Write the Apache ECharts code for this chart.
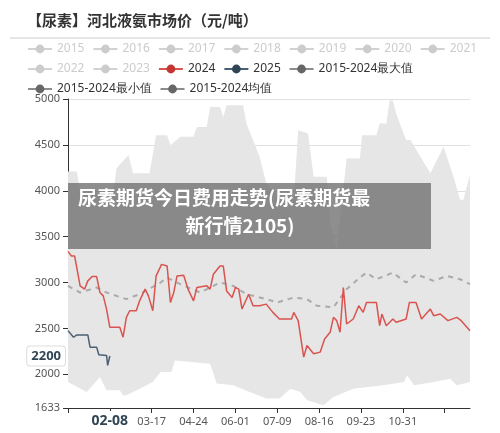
<!DOCTYPE html>
<html><head><meta charset="utf-8">
<script src="https://cdn.jsdelivr.net/npm/echarts@6/dist/echarts.min.js"></script>
<style>html,body{margin:0;padding:0;background:#fff}#c{width:500px;height:433px}</style>
</head><body><div id="c"></div>
<script>
// categories: every day of a leap year, MM-DD
const categories = [];
const monthDays = [31,29,31,30,31,30,31,31,30,31,30,31];
monthDays.forEach((n,m)=>{for(let d=1;d<=n;d++)categories.push(String(m+1).padStart(2,'0')+'-'+String(d).padStart(2,'0'));});

const yTicks = [1633,2000,2500,3000,3500,4000,4500,5000];
const legendYears = ['2015','2016','2017','2018','2019','2020','2021','2022','2023'];

// [dayIndex, value]
const s2024 = [[0,3340],[3,3290],[6,3290],[11,2964],[15,2928],[18,3018],[22,3065],[26,3065],[29,2891],[32,2855],[35,2711],[38,2512],[47,2512],[50,2404],[53,2620],[56,2693],[62,2693],[65,2801],[70,2928],[73,2855],[77,2693],[80,3072],[85,3198],[90,3180],[93,2783],[96,2891],[99,3072],[105,3079],[109,2928],[114,2801],[117,2946],[126,2964],[129,2928],[132,3090],[138,3180],[141,3180],[144,2909],[149,2837],[152,2946],[155,2928],[158,2711],[164,2873],[168,2747],[174,2747],[180,2765],[186,2675],[192,2603],[203,2603],[205,2675],[209,2585],[214,2187],[217,2314],[223,2224],[229,2242],[233,2386],[238,2458],[241,2621],[244,2585],[247,2458],[250,2946],[253,2548],[259,2603],[264,2747],[268,2675],[271,2783],[280,2783],[283,2530],[285,2657],[289,2530],[295,2603],[298,2567],[307,2603],[310,2783],[316,2783],[321,2603],[329,2711],[332,2639],[338,2657],[345,2585],[353,2621],[357,2585],[365,2476]];
const s2025 = [[0,2476],[5,2404],[8,2429],[18,2429],[20,2296],[26,2296],[28,2213],[35,2206],[36,2097],[38,2200]];
const sMean = [[0,2964],[11,2891],[26,2946],[35,2891],[53,2819],[65,2873],[84,3000],[90,3054],[102,2982],[120,2891],[138,3000],[150,2964],[162,2873],[180,2819],[190,2783],[205,2837],[217,2819],[226,2747],[241,2729],[253,2928],[265,3054],[271,3108],[280,3036],[295,3108],[307,3000],[316,3090],[332,3018],[344,3072],[356,3036],[365,2982]];
const sMax = [[0,4209],[8,4209],[11,4000],[41,3950],[44,4245],[55,4389],[59,4190],[74,4190],[80,4606],[90,4606],[93,4497],[102,4588],[114,4588],[117,4696],[126,4696],[129,4913],[138,4913],[141,4804],[144,4931],[159,4931],[162,4732],[174,4371],[180,4082],[193,3902],[205,3902],[209,4660],[218,4624],[223,4154],[235,4154],[238,3649],[244,3360],[253,4353],[265,4353],[267,4606],[280,4606],[283,4732],[289,4732],[292,4985],[295,4985],[298,4840],[307,4552],[311,4552],[320,4371],[329,4190],[341,4479],[350,4154],[356,3902],[359,3902],[365,4172]];
const sMin = [[0,1917],[17,1808],[29,1971],[35,1826],[47,1826],[50,1772],[53,1772],[65,1844],[77,1917],[84,2025],[94,2025],[97,2151],[129,2115],[135,1899],[150,1881],[165,1808],[180,1736],[192,1736],[202,1844],[211,1808],[217,1718],[232,1664],[241,1754],[259,1844],[286,1881],[305,1917],[308,1989],[314,1881],[332,1917],[347,1953],[353,1881],[365,1917]];

const chart = echarts.init(document.getElementById('c'));
const font = '"Noto Sans", sans-serif';
const series = legendYears.map(y=>({name:y,type:'line',data:[],symbol:'circle',itemStyle:{color:'#999'}}));
series.push(
 {name:'2015-2024最大值',type:'line',data:sMax,symbol:'circle',showSymbol:false,lineStyle:{width:0},areaStyle:{color:'#e6e6e6',opacity:1,origin:'start'},itemStyle:{color:'#666'},z:1},
 {name:'2015-2024最小值',type:'line',data:sMin,symbol:'circle',showSymbol:false,lineStyle:{width:0},areaStyle:{color:'#fff',opacity:1,origin:'start'},itemStyle:{color:'#666'},z:2},
 {name:'2015-2024均值',type:'line',data:sMean,symbol:'circle',showSymbol:false,lineStyle:{color:'#aaa',width:2,type:[5,5]},itemStyle:{color:'#666'},z:3},
 {name:'2024',type:'line',data:s2024,symbol:'circle',showSymbol:false,lineStyle:{color:'#d9534f',width:1.5},itemStyle:{color:'#c23531'},z:4},
 {name:'2025',type:'line',data:s2025,symbol:'circle',showSymbol:false,lineStyle:{color:'#4a5f73',width:1.5},itemStyle:{color:'#2f4554'},z:5}
);
const selected = {}; legendYears.forEach(y=>selected[y]=false);
const grayItem = n=>({name:n,itemStyle:{color:'#666'},lineStyle:{color:'#666',width:1.5,type:'solid'}});
chart.setOption({
 animation:false,
 textStyle:{fontFamily:font},
 title:{text:'【尿素】河北液氨市场价（元/吨）',left:22,top:8,textStyle:{fontSize:15,fontWeight:'bold',color:'#333',fontFamily:'"Noto Sans CJK SC", sans-serif'}},
 graphic:[
  {type:'line',shape:{x1:10,y1:38,x2:490,y2:38},style:{stroke:'#ccc',lineWidth:1}},
  {type:'rect',shape:{x:68,y:183,width:363,height:66},style:{fill:'rgba(110,110,110,0.78)'},z:100},
  {type:'text',style:{text:'尿素期货今日费用走势(尿素期货最',x:78,y:188,fill:'#fff',font:'bold 19px "Noto Sans CJK SC", sans-serif'},z:101},
  {type:'text',style:{text:'新行情2105)',x:240,y:216,align:'center',fill:'#fff',font:'bold 19px "Noto Sans CJK SC", sans-serif'},z:101}
 ],
 legend:{left:22,top:38,width:478,itemGap:8,itemWidth:24,itemHeight:11,
  data:[...legendYears,'2024','2025',grayItem('2015-2024最大值'),grayItem('2015-2024最小值'),grayItem('2015-2024均值')],
  selected:selected,inactiveColor:'#ccc',textStyle:{fontSize:12,color:'#333'}},
 grid:{left:68,right:30,top:99,bottom:25},
 xAxis:{type:'category',data:categories,boundaryGap:false,
  axisLine:{lineStyle:{color:'#333'}},axisTick:{interval:37,lineStyle:{color:'#333'}},
  axisLabel:{interval:37,color:'#555',fontSize:11,formatter:(v,i)=>(i===0||i>=342)?'':v},
  axisPointer:{show:true,value:38,status:'show',type:'line',lineStyle:{opacity:0},
   label:{show:true,backgroundColor:'#fff',color:'#2f4554',fontWeight:'bold',fontSize:14,padding:[3,9]}}},
 yAxis:{type:'value',min:1633,max:5000,
  axisLine:{show:true,lineStyle:{color:'#333'}},
  axisTick:{show:true,customValues:yTicks,lineStyle:{color:'#333'}},
  axisLabel:{customValues:yTicks,color:'#555',fontSize:11,formatter:v=>String(v)},
  splitLine:{show:true,lineStyle:{color:'#e0e0e0'}},
  axisPointer:{show:true,value:2200,status:'show',type:'line',lineStyle:{opacity:0},
   label:{show:true,backgroundColor:'#fff',borderColor:'#ddd',borderWidth:1,color:'#2f4554',fontWeight:'bold',fontSize:13,padding:[3,4],formatter:'2200'}}},
 series:series
});
</script></body></html>
